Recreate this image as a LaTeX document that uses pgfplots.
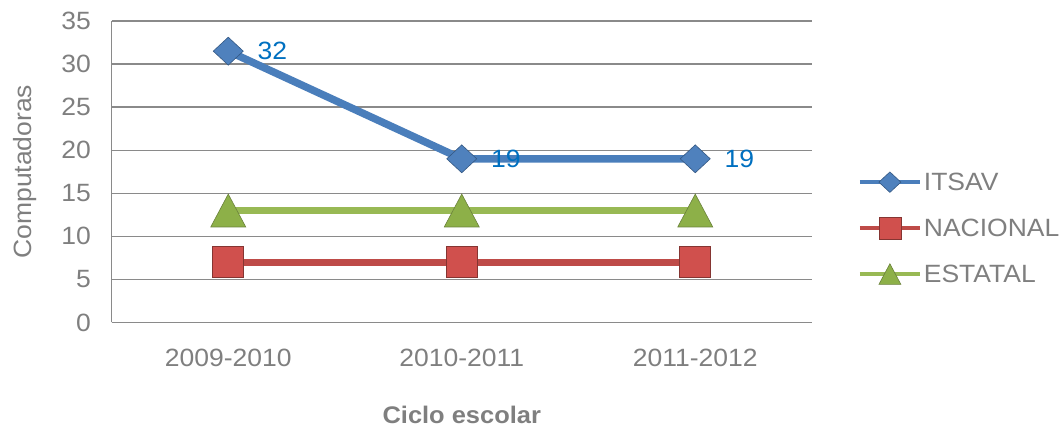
\documentclass[border=0pt]{standalone}
\usepackage{fontspec}
\setmainfont[FakeStretch=1.06]{Liberation Sans}
\usepackage{pgfplots}
\pgfplotsset{compat=1.18}
\definecolor{itsav}{HTML}{4A7EBB}
\definecolor{itsavm}{HTML}{4F81BD}
\definecolor{nac}{HTML}{BE4B48}
\definecolor{nacm}{HTML}{D0504D}
\definecolor{est}{HTML}{98B954}
\definecolor{estm}{HTML}{8DB048}
\definecolor{txt}{HTML}{7F7F7F}
\definecolor{grd}{HTML}{8A8A8A}
\definecolor{lbl}{HTML}{0070C0}
\pgfdeclareplotmark{xdia}{%
  \pgfpathmoveto{\pgfqpoint{0pt}{0.93\pgfplotmarksize}}%
  \pgfpathlineto{\pgfqpoint{\pgfplotmarksize}{0pt}}%
  \pgfpathlineto{\pgfqpoint{0pt}{-0.93\pgfplotmarksize}}%
  \pgfpathlineto{\pgfqpoint{-\pgfplotmarksize}{0pt}}%
  \pgfpathclose\pgfusepathqfillstroke}
\pgfdeclareplotmark{xtri}{%
  \pgfpathmoveto{\pgfqpoint{0pt}{0.94\pgfplotmarksize}}%
  \pgfpathlineto{\pgfqpoint{\pgfplotmarksize}{-0.94\pgfplotmarksize}}%
  \pgfpathlineto{\pgfqpoint{-\pgfplotmarksize}{-0.94\pgfplotmarksize}}%
  \pgfpathclose\pgfusepathqfillstroke}
\pgfdeclareplotmark{xsq}{%
  \pgfpathrectangle{\pgfqpoint{-\pgfplotmarksize}{-\pgfplotmarksize}}{\pgfqpoint{2\pgfplotmarksize}{2\pgfplotmarksize}}%
  \pgfusepathqfillstroke}
\newcommand{\fs}{\fontsize{25}{30}\selectfont}
\begin{document}
\begin{tikzpicture}[x=1pt,y=1pt]
\path[use as bounding box] (0,0) rectangle (1060,428);
\begin{axis}[
  at={(111.5pt,105.5pt)}, anchor=south west,
  scale only axis, width=700.5pt, height=301.5pt,
  xmin=-0.5, xmax=2.5, ymin=0, ymax=35,
  xtick={0,1,2}, xticklabels={2009-2010,2010-2011,2011-2012},
  ytick={0,5,...,35},
  /pgf/number format/assume math mode=true,
  ymajorgrids, grid style={grd, line width=1.3pt},
  axis x line*=bottom, axis y line*=left,
  axis line style={grd, line width=1.3pt, -},
  major tick length=0pt,
  tick label style={font=\fs, text=txt},
  yticklabel style={xshift=-17pt},
  xticklabel style={yshift=-23pt},
  xlabel={\textbf{Ciclo escolar}},
  xlabel style={at={(axis description cs:0.5,-0.305)}, anchor=center, font=\fontsize{24}{28}\selectfont, text=txt},
  ylabel={Computadoras},
  ylabel style={at={(axis description cs:-0.124,0.5)}, anchor=center, font=\fs, text=txt},
  clip=false,
  legend style={draw=none, fill=none, at={(1.0655,0.313)}, anchor=west,
    font=\fs, text=txt, inner sep=0pt, outer sep=0pt, row sep=23pt,
    nodes={inner sep=2pt}},
  legend cell align=left,
  legend image code/.code={
    \draw[#1, mark=none, line width=4pt] (0pt,0pt) -- (60pt,0pt);
    \draw[#1, only marks, mark size=11pt] plot coordinates {(30pt,0pt)};
  },
]
\addplot[itsav, line width=7.5pt, mark=xdia, mark size=15pt,
  mark options={fill=itsavm, draw=itsav!70!black, line width=0.6pt},
  nodes near coords, point meta=explicit symbolic,
  every node near coord/.append style={anchor=west, xshift=27pt, inner sep=2pt, text=lbl, font=\fs}]
  coordinates {(0,31.5) [32] (1,19) [19] (2,19) [19]};
\addlegendentry{ITSAV}
\addplot[nac, line width=7pt, mark=xsq, mark size=15.5pt,
  mark options={fill=nacm, draw=nac!70!black, line width=0.6pt}]
  coordinates {(0,7) (1,7) (2,7)};
\addlegendentry{NACIONAL}
\addplot[est, line width=6.5pt, mark=xtri, mark size=17.5pt,
  mark options={fill=estm, draw=est!70!black, line width=0.6pt}]
  coordinates {(0,13) (1,13) (2,13)};
\addlegendentry{ESTATAL}
\end{axis}
\end{tikzpicture}
\end{document}
